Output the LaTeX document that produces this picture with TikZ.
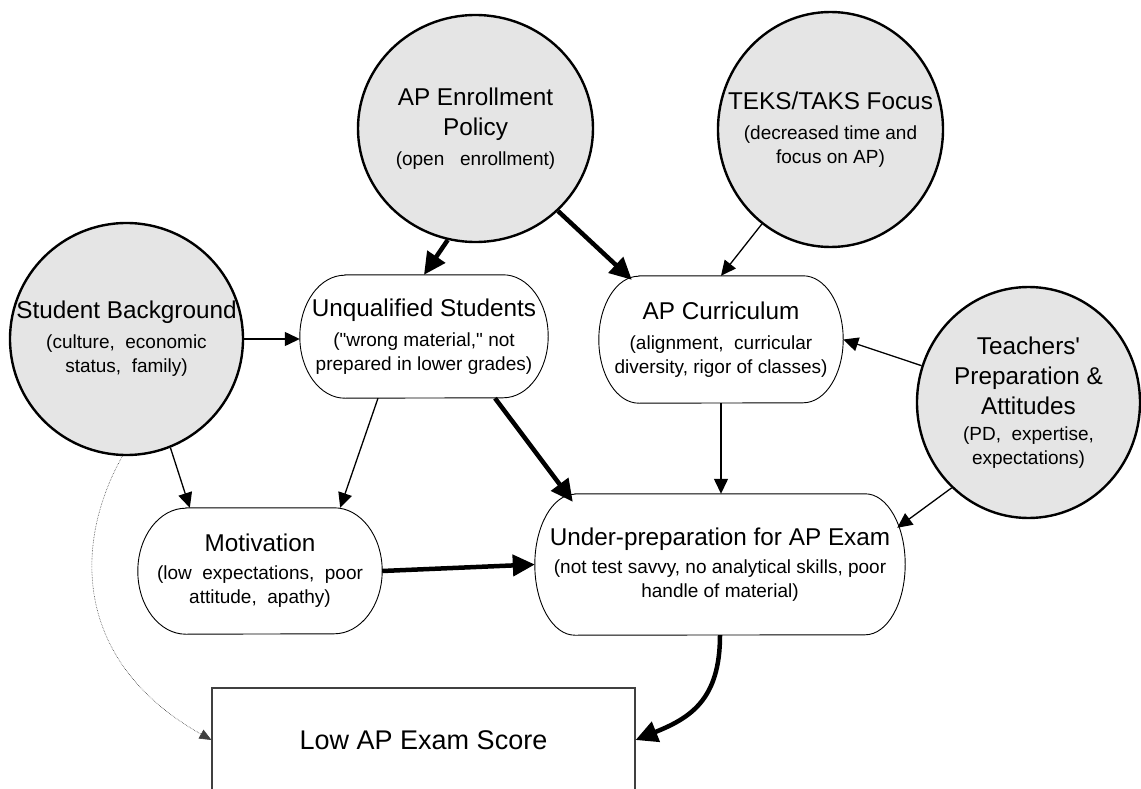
\documentclass[tikz,border=0pt]{standalone}
\usepackage{fontspec}
\setmainfont{Liberation Sans}[Ligatures=TeXOff]
\usetikzlibrary{arrows.meta,shapes.geometric,calc}
\newcommand\TitleFont{\fontsize{24.3}{24}\selectfont}
\newcommand\SubFont{\fontsize{19}{24}\selectfont}
\begin{document}
\begin{tikzpicture}[x=1pt,y=1pt,
  ell/.style={ellipse, draw, line width=2.4pt, fill=black!10, inner sep=0pt},
  lbl/.style={align=center, font={\SubFont\lineskiplimit=-50pt}, inner sep=0pt},
  ovaltext/.style={rectangle, inner sep=0pt, align=center, font={\SubFont\lineskiplimit=-50pt}},
  thinarrow/.style={-{Triangle[length=15pt,width=14pt]}, line width=1.3pt},
  thickarrow/.style={-{Triangle[length=22pt,width=21pt]}, line width=4.5pt},
  dotarrow/.style={-{Triangle[length=12pt,width=10pt]}, line width=0.6pt, densely dotted, draw=black!75},
  ovalline/.style={line width=0.9pt}]
\useasboundingbox (0,0) rectangle (1141,-789);
\clip (0,0) rectangle (1141,-789);

% grey circles
\node[ell, minimum width=233pt, minimum height=232pt,
  label={[lbl]center:{{\TitleFont Student Background}\\[6pt](culture,\ \ economic\\status,\ \ family)}}] (sb) at (126.5,-339) {};
\node[ell, minimum width=235pt, minimum height=227pt,
  label={[lbl]center:{{\TitleFont AP Enrollment}\\[6pt]{\TitleFont Policy}\\[6pt](open\ \ \ enrollment)}}] (ep) at (475.5,-128.5) {};
\node[ell, minimum width=225pt, minimum height=235pt,
  label={[lbl]center:{{\TitleFont TEKS/TAKS Focus}\\[6pt](decreased\ time\ and\\focus\ on\ AP)}}] (teks) at (830.5,-129.5) {};
\node[ell, minimum width=223pt, minimum height=231pt,
  label={[lbl]center:{{\TitleFont Teachers'}\\[6pt]{\TitleFont Preparation \&}\\[6pt]{\TitleFont Attitudes}\\[2pt](PD,\ \ expertise,\\expectations)}}] (tp) at (1028.5,-402.5) {};

% ovals (text nodes)
\node[ovaltext, minimum width=248pt, minimum height=123pt] (uq) at (424,-336.5)
  {{\TitleFont Unqualified Students}\\[6pt]("wrong material,"\ not\\prepared in lower grades)};
\node[ovaltext, minimum width=244pt, minimum height=127pt] (apc) at (721,-339.5)
  {{\TitleFont AP Curriculum}\\[6pt](alignment,\ \ curricular\\diversity,\ rigor\ of\ classes)};
\node[ovaltext, minimum width=244pt, minimum height=126pt] (mot) at (260,-571)
  {{\TitleFont Motivation}\\[4pt](low\ \ expectations,\ \ poor\\attitude,\ \ apathy)};
\node[ovaltext, minimum width=370pt, minimum height=141pt] (up) at (720,-564.5)
  {{\TitleFont Under-preparation for AP Exam}\\[4pt](not\ test\ savvy,\ no\ analytical\ skills,\ poor\\handle\ of\ material)};

% oval outlines
\foreach \n/\r/\h in {uq/45/61.5, apc/40/63.5, mot/48/63, up/40/70.5}{
  \draw[ovalline] ([xshift=\r pt]\n.north west) -- ([xshift=-\r pt]\n.north east)
    arc[start angle=90,end angle=-90,x radius=\r pt,y radius=\h pt]
    -- ([xshift=\r pt]\n.south west)
    arc[start angle=270,end angle=90,x radius=\r pt,y radius=\h pt] -- cycle;
}

% result box
\node[draw=black!75, line width=1.1pt, minimum width=423pt, minimum height=104pt, inner sep=0pt,
  font=\fontsize{27}{30}\selectfont] (low) at (423.5,-740) {Low AP Exam Score};

% connectors
\draw[thinarrow] (sb.east) -- (sb.east -| uq.west);
\draw[thickarrow] (ep.256) -- (uq.north);
\draw[thickarrow] (ep.315) -- ($(apc.north west)+(33,-4)$);
\draw[thinarrow] (teks.234) -- (apc.north);
\draw[thinarrow] (tp.161) -- (apc.east);
\draw[thinarrow] (apc.south) -- (apc.south |- up.north);
\draw[thinarrow] (tp.228) -- ($(up.north east)+(-8,-34)$);
\draw[thinarrow] ($(uq.south)+(-46,0)$) -- ($(mot.north east)+(-42,0)$);
\draw[thinarrow] (sb.292) -- ($(mot.north west)+(52,0)$);
\draw[thickarrow] ($(uq.south)+(71,0)$) -- ($(up.north west)+(38,-8)$);
\draw[thickarrow] (mot.east) -- (up.west);
\draw[thickarrow] (up.south) .. controls (720,-700) and (690,-718) .. (low.east);
\draw[dotarrow] (sb.268) .. controls (75,-540) and (70,-660) .. (low.west);
\end{tikzpicture}
\end{document}
